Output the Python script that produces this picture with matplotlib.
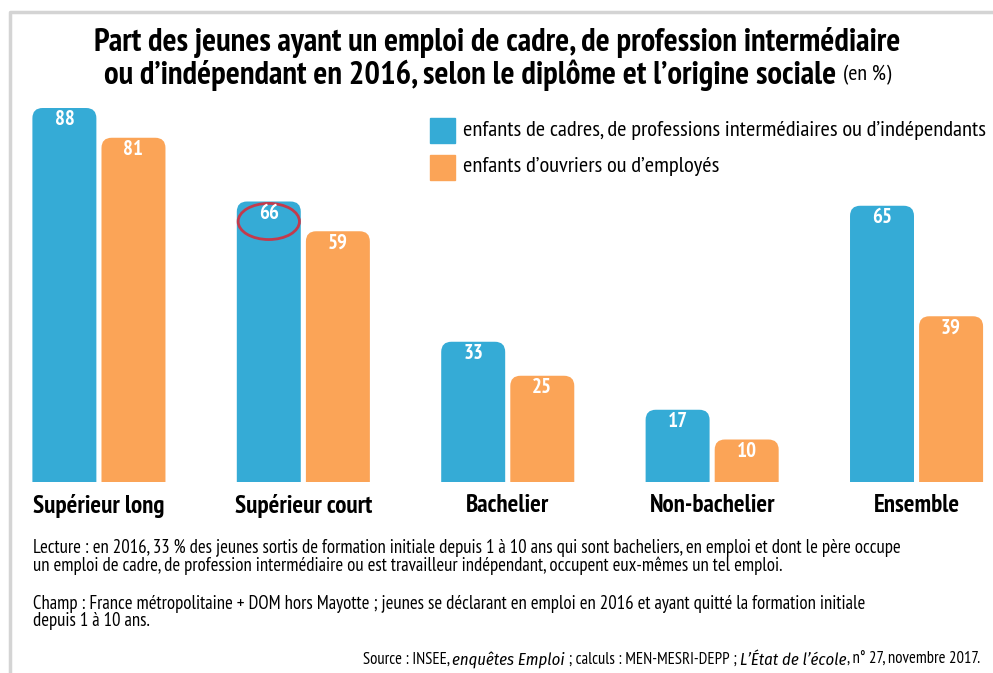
import matplotlib
matplotlib.use("Agg")
from matplotlib import pyplot as plt
from matplotlib.patches import FancyBboxPatch, Ellipse
from matplotlib.lines import Line2D

categories = ["Supérieur long", "Supérieur court", "Bachelier", "Non-bachelier", "Ensemble"]
cadres = [88, 66, 33, 17, 65]
ouvriers = [81, 59, 25, 10, 39]
series_labels = ["enfants de cadres, de professions intermédiaires ou d\u2019indépendants",
                 "enfants d\u2019ouvriers ou d\u2019employés"]

blue = "#35abd6"
orange = "#fba457"
narrow = ["PT Sans Narrow", "DejaVu Sans"]
narrow_it = ["Fira Sans Condensed", "PT Sans Narrow", "DejaVu Sans"]
plt.rcParams["font.family"] = narrow

fig = plt.figure(figsize=(9.93, 6.73), dpi=100)
renderer = fig.canvas.get_renderer()


def segments(parts, y, x=None, x_right=None, x_center=None):
    # lay out pieces of text one after the other on one line (pixel units)
    texts = []
    for s, kw in parts:
        texts.append(fig.text(0, 1 - y / 673, s, va="center", ha="left", **kw))
    widths = [t.get_window_extent(renderer).width for t in texts]
    total = sum(widths)
    if x_right is not None:
        x = x_right - total
    elif x_center is not None:
        x = x_center - total / 2
    for t, wd in zip(texts, widths):
        t.set_x(x / 993)
        x += wd


ax = fig.add_axes([0, 0.2838, 1, 0.6315])
ax.set_xlim(-0.484, 4.374)
ax.set_ylim(0, 100)
ax.axis("off")

w = 0.313
off = 0.169
xs = list(range(len(categories)))
b1 = ax.bar([x - off for x in xs], cadres, w, color=blue)
b2 = ax.bar([x + off for x in xs], ouvriers, w, color=orange)

# rounded tops: swap bars for rounded boxes
aspect = (100 / 425) / (4.858 / 993)
for bars, col in [(b1, blue), (b2, orange)]:
    for r in bars:
        r.set_visible(False)
        x0, h = r.get_x(), r.get_height()
        p = FancyBboxPatch((x0, -10), w, h + 10,
                           boxstyle="round,pad=0,rounding_size=0.05",
                           mutation_aspect=aspect, fc=col, ec="none")
        ax.add_patch(p)
        ax.text(x0 + w / 2, h - 2.8, str(int(h)), ha="center", va="center",
                color="white", fontsize=15, fontweight="bold")

# red circle around 66
ax.add_patch(Ellipse((1 - off, 61.3), 0.30, 8.5, fill=False, ec="#c33a4c", lw=2))

for x, c in zip(xs, categories):
    ax.text(x, -5.6, c, ha="center", va="center", fontsize=18, fontweight="bold",
            clip_on=False)

# title
segments([("Part des jeunes ayant un emploi de cadre, de profession intermédiaire",
           dict(fontsize=23.5, fontweight="bold"))], 42, x_center=497)
segments([("ou d\u2019indépendant en 2016, selon le diplôme et l\u2019origine sociale ",
           dict(fontsize=23.5, fontweight="bold")),
          ("(en %)", dict(fontsize=16))], 75, x_center=498)

# legend
for y, col, lab in [(130, blue, series_labels[0]), (167, orange, series_labels[1])]:
    fig.patches.append(plt.Rectangle((430 / 993, 1 - (y + 13) / 673), 25 / 993, 25 / 673,
                                     transform=fig.transFigure, color=col))
    fig.text(463 / 993, 1 - y / 673, lab, ha="left", va="center", fontsize=16.2)

# notes
notes = [(548, "Lecture : en 2016, 33 % des jeunes sortis de formation initiale depuis 1 à 10 ans qui sont bacheliers, en emploi et dont le père occupe"),
         (566, "un emploi de cadre, de profession intermédiaire ou est travailleur indépendant, occupent eux-mêmes un tel emploi."),
         (604, "Champ : France métropolitaine + DOM hors Mayotte ; jeunes se déclarant en emploi en 2016 et ayant quitté la formation initiale"),
         (621, "depuis 1 à 10 ans.")]
for y, t in notes:
    fig.text(33 / 993, 1 - y / 673, t, ha="left", va="center", fontsize=13.5)

reg = dict(fontsize=12)
ita = dict(fontsize=12, style="italic", family=narrow_it)
segments([("Source : INSEE, ", reg), ("enquêtes Emploi", ita),
          (" ; calculs : MEN-MESRI-DEPP ; ", reg), ("L\u2019État de l\u2019école", ita),
          (", n° 27, novembre 2017.", reg)], 660, x_right=980)

# frame
fig.lines.append(Line2D([10 / 993, 10 / 993, 1], [0, 1 - 12 / 673, 1 - 12 / 673],
                        transform=fig.transFigure, color="#d4d4d4", lw=2.5))

fig.savefig("out.png", dpi=100)
